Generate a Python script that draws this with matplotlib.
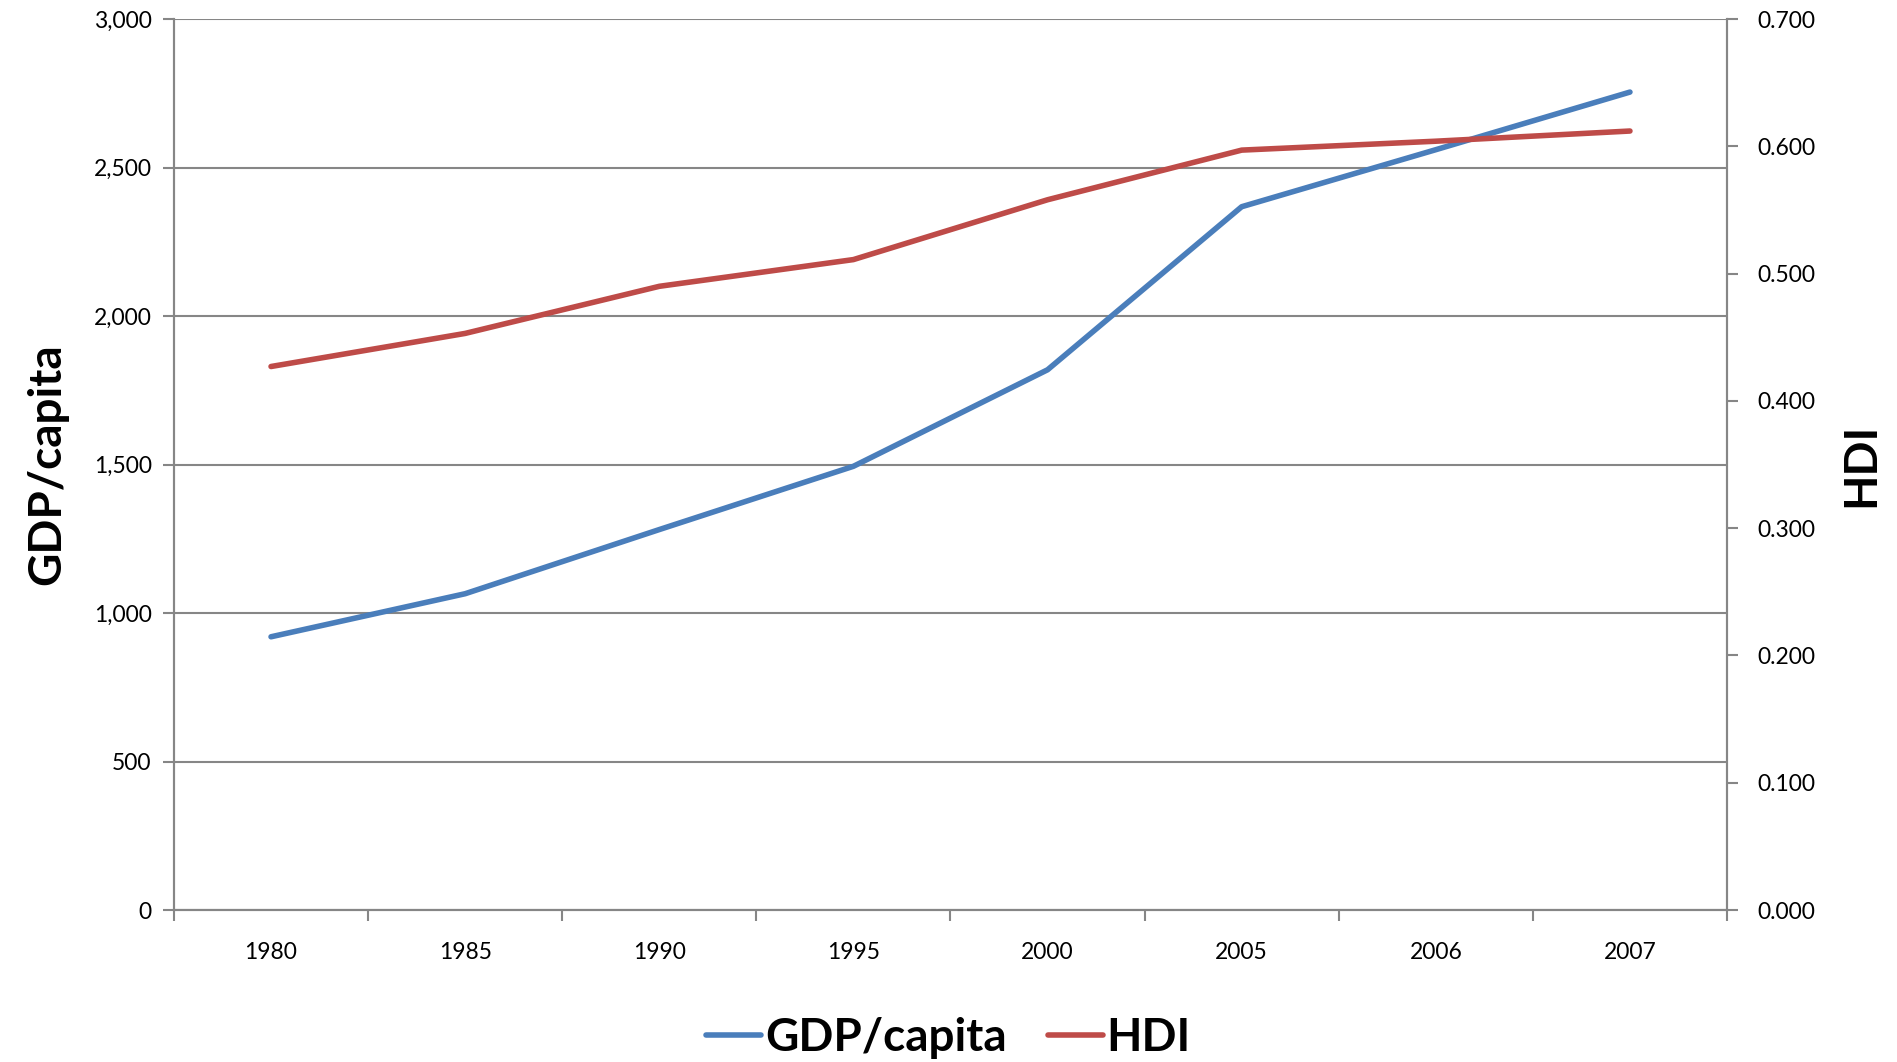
import matplotlib
matplotlib.use("Agg")
import matplotlib.pyplot as plt
from matplotlib.lines import Line2D
from matplotlib.ticker import FuncFormatter

years = ["1980", "1985", "1990", "1995", "2000", "2005", "2006", "2007"]
gdp_per_capita = [920, 1065, 1281, 1494, 1819, 2368, 2560, 2754]
hdi = [0.427, 0.453, 0.490, 0.511, 0.558, 0.597, 0.604, 0.612]

gdp_ticks = [0, 500, 1000, 1500, 2000, 2500, 3000]
hdi_ticks = [0.0, 0.1, 0.2, 0.3, 0.4, 0.5, 0.6, 0.7]

blue = "#4A7EBB"
red = "#BE4B48"
grey = "#868686"
plt.rcParams["font.family"] = ["Lato", "DejaVu Sans"]

fig = plt.figure(figsize=(18.97, 10.62), dpi=100)
ax = fig.add_axes([0.0917, 0.1431, 0.8187, 0.8390])
ax2 = ax.twinx()

x = list(range(len(years)))
ax.plot(x, gdp_per_capita, color=blue, lw=4.0, solid_capstyle="round", zorder=3)
ax2.plot(x, hdi, color=red, lw=4.0, solid_capstyle="round", zorder=3)

ax.set_xlim(-0.5, len(years) - 0.5)
ax.set_ylim(0, 3000)
ax2.set_ylim(0, 0.7)

ax.set_yticks(gdp_ticks)
ax.yaxis.set_major_formatter(FuncFormatter(lambda v, p: f"{int(v):,}"))
ax2.set_yticks(hdi_ticks)
ax2.yaxis.set_major_formatter(FuncFormatter(lambda v, p: f"{v:.3f}"))

ax.set_xticks(x)
ax.set_xticklabels(years)
ax.set_xticks([i - 0.5 for i in range(len(years) + 1)], minor=True)
ax.tick_params(axis="x", which="major", length=0, pad=23, labelsize=16.5)
ax.tick_params(axis="x", which="minor", length=8, width=1.5, color=grey, direction="out")
ax.tick_params(axis="y", length=8, width=1.5, color=grey, labelsize=16.5, pad=8)
ax2.tick_params(axis="y", length=8, width=1.5, color=grey, labelsize=16.5, pad=14)

ax.grid(axis="y", color=grey, lw=1.5)
ax.set_axisbelow(True)
for a in (ax, ax2):
    for s in a.spines.values():
        s.set_color(grey)
        s.set_linewidth(1.5)
    a.spines["top"].set_visible(False)

ax.set_ylabel("GDP/capita", fontsize=33, fontweight="bold", labelpad=18)
ax2.set_ylabel("HDI", fontsize=33, fontweight="bold", rotation=90, labelpad=18)

handles = [Line2D([], [], color=blue, lw=4.0, solid_capstyle="round"),
           Line2D([], [], color=red, lw=4.0, solid_capstyle="round")]
fig.legend(handles, ["GDP/capita", "HDI"], loc="center", bbox_to_anchor=(0.5, 0.023),
           ncol=2, frameon=False, prop={"size": 33, "weight": "bold"},
           handlelength=1.2, handletextpad=0.08, columnspacing=0.9)

fig.savefig("out.png", dpi=100)
